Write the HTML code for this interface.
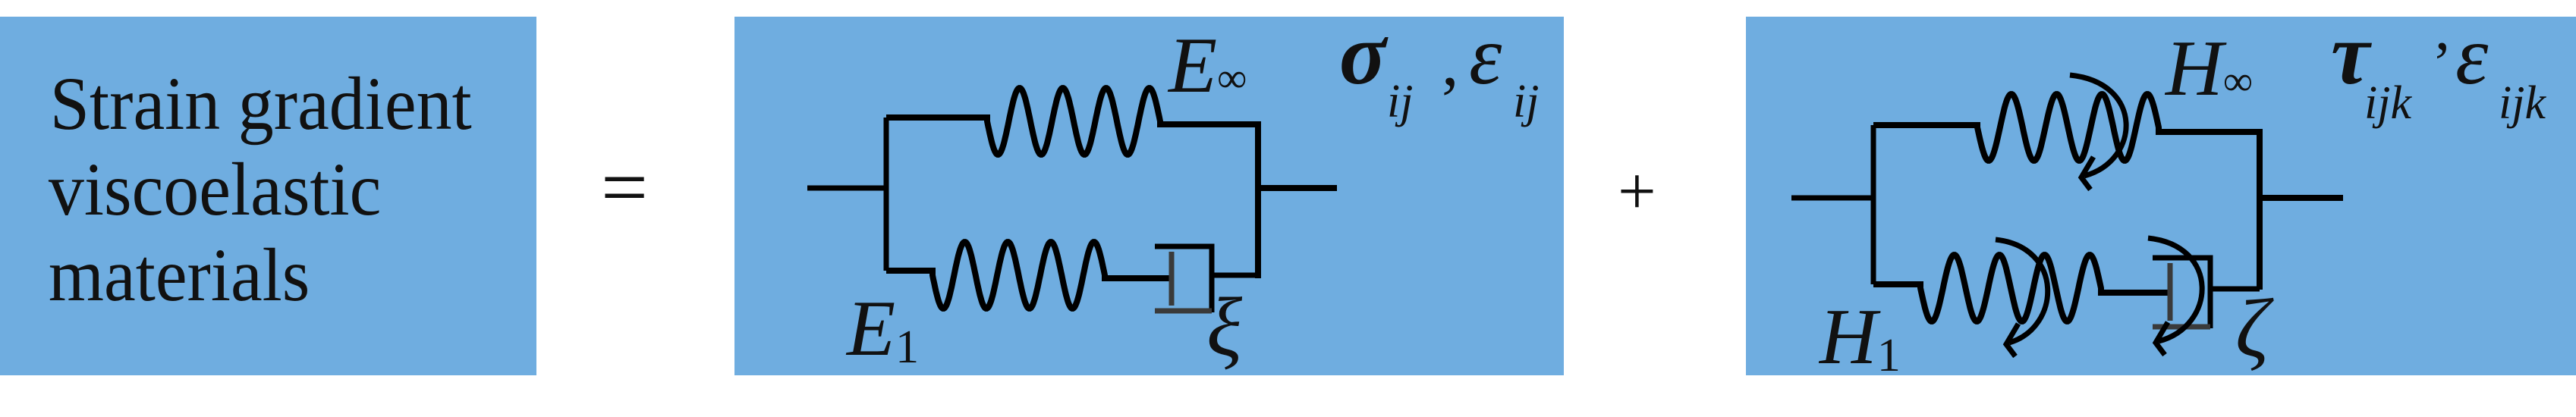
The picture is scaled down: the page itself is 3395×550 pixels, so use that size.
<!DOCTYPE html>
<html><head><meta charset="utf-8"><style>
html,body{margin:0;padding:0;background:#fff;}
svg{display:block;}
text{font-family:"Liberation Serif",serif;fill:#111;}
</style></head><body>
<svg id="fig" width="3395" height="550" viewBox="0 0 3395 550" xmlns="http://www.w3.org/2000/svg">
<rect x="0" y="22" width="707" height="473" fill="#6fade0"/>
<rect x="968" y="22" width="1093" height="473" fill="#6fade0"/>
<rect x="2301" y="22" width="1094" height="473" fill="#6fade0"/>
<g font-size="100" transform="scale(0.94,1)">
<text x="70" y="170">Strain gradient</text>
<text x="68" y="283">viscoelastic</text>
<text x="68" y="396">materials</text>
</g>
<text x="792" y="284" font-size="110" font-family="Liberation Sans">=</text>
<text x="2132" y="282" font-size="90" font-family="Liberation Sans">+</text>

<g id="c1" fill="none" stroke="#000" stroke-width="7"></g>
<g id="c2" fill="none" stroke="#000" stroke-width="7"></g>

<g font-style="italic">
<text x="1540" y="121" font-size="105">E<tspan font-size="55" font-style="normal">∞</tspan></text>
<text x="1765" y="110" font-size="115" font-weight="bold">σ</text>
<text x="1828" y="154" font-size="62">ij</text>
<text x="1900" y="112" font-size="90" font-style="normal">,</text>
<text x="1936" y="110" font-size="110">ε</text>
<text x="1994" y="154" font-size="62">ij</text>
<text x="1116" y="468" font-size="105">E<tspan font-size="62" font-style="normal" dy="10">1</tspan></text>
<text x="1590" y="468" font-size="110">ξ</text>
</g>
<g font-style="italic">
<text x="2854" y="125" font-size="105">H<tspan font-size="55" font-style="normal">∞</tspan></text>
<text x="3072" y="110" font-size="115" font-weight="bold">τ</text>
<text x="3116" y="156" font-size="62">ijk</text>
<text x="3205" y="110" font-size="80" font-style="normal">’</text>
<text x="3236" y="110" font-size="110">ε</text>
<text x="3293" y="156" font-size="62">ijk</text>
<text x="2398" y="479" font-size="105">H<tspan font-size="62" font-style="normal" dy="10">1</tspan></text>
<text x="2946" y="470" font-size="110">ζ</text>
</g>
</svg>
<script>
const NS="http://www.w3.org/2000/svg";
function spring(x0,x1,mid,amp,n){let d="";const N=200;for(let i=0;i<=N;i++){const t=i/N;const x=x0+(x1-x0)*t;const y=mid+amp*Math.sin(2*Math.PI*n*t);d+=(i?"L":"M")+x.toFixed(1)+","+y.toFixed(1);}return d;}
function add(g,tag,attrs,name){const e=document.createElementNS(NS,tag);for(const k in attrs)e.setAttribute(k,attrs[k]);


g.appendChild(e);return e;}
function circuit(g,p){
 add(g,"path",{d:`M${p.sx0},${p.sy}H${p.L}M${p.L},${p.ty}V${p.by}`},"left-frame");
 add(g,"path",{d:`M${p.L},${p.ty}H${p.ts0}`+spring(p.ts0,p.ts1,p.tmid,44,4).replace("M","L")+`L${p.ts1},${p.ty2}H${p.R}V${p.by2}M${p.R},${p.sy}H${p.sx1}`,"stroke-width":8},"top-spring-branch");
 add(g,"path",{d:`M${p.L},${p.by}H${p.bs0}`+spring(p.bs0,p.bs1,p.bmid,44,4).replace("M","L")+`L${p.bs1},${p.by3}H${p.px}`,"stroke-width":8},"bottom-spring");
 add(g,"line",{x1:p.px,y1:p.py0,x2:p.px,y2:p.py1,stroke:"#3a3a3a"},"dashpot-piston");
 add(g,"path",{d:`M${p.cx0},${p.cy0}H${p.cx1}V${p.cy1}`},"dashpot-cylinder");
 add(g,"line",{x1:p.cx0,y1:p.cy1-2,x2:p.cx1,y2:p.cy1-2,stroke:"#3a3a3a"},"dashpot-bottom");
 add(g,"path",{d:`M${p.cx1},${p.cy2}H${p.R}V${p.by2}`},"dashpot-link");
}
circuit(document.getElementById("c1"),{sx0:1064,sx1:1762,sy:248,L:1168,R:1658,ty:155,ty2:164,by:357,by2:367,ts0:1301,ts1:1529,tmid:160,bs0:1229,bs1:1456,bmid:363,by3:367,px:1544,py0:332,py1:403,cx0:1522,cx1:1597,cy0:325,cy1:412,cy2:363});
circuit(document.getElementById("c2"),{sx0:2361,sx1:3088,sy:261,L:2469,R:2978,ty:165,ty2:174,by:375,by2:382,ts0:2606,ts1:2845,tmid:168,bs0:2531,bs1:2769,bmid:380,by3:386,px:2860,py0:347,py1:423,cx0:2837,cx1:2913,cy0:340,cy1:433,cy2:381});
const g2=document.getElementById("c2");
function arrow(x0,y0,xm,ym,x1,y1,name){
 add(g2,"path",{d:`M${x0},${y0}C${xm+15},${y0+10} ${xm+10},${y1-20} ${x1},${y1}`},name);
 add(g2,"path",{d:`M${x1+12},${y1-25}L${x1-4},${y1+2}L${x1+8},${y1+18}`,"stroke-width":7},name+"-head");
}
arrow(2728,99,2811,168,2747,232,"rotation-arrow-top");
arrow(2630,316,2706,386,2648,452,"rotation-arrow-spring");
arrow(2831,314,2911,382,2845,450,"rotation-arrow-dashpot");
</script>
</body></html>
